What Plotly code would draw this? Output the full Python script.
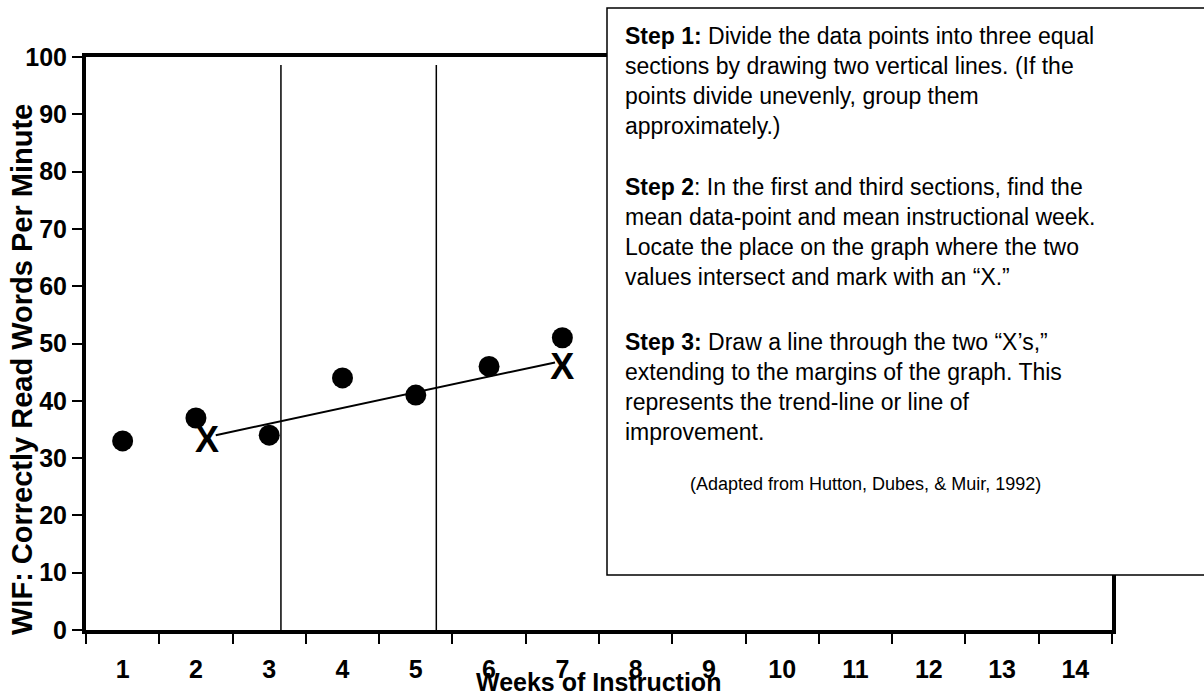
import plotly.graph_objects as go

# ---- data ----
weeks = [1, 2, 3, 4, 5, 6, 7]
wif_scores = [33, 37, 34, 44, 41, 46, 51]
week_ticks = list(range(1, 15))
week_labels = [str(w) for w in week_ticks]
score_ticks = list(range(0, 101, 10))
divider_x = [3.16, 5.28]
divider_top = 98.6
trend_x = [2.27, 6.9]
trend_y = [34.0, 46.7]
mark_x = [2.15, 7.0]
mark_y = [32.6, 45.4]

FONT = "Arial, Liberation Sans, sans-serif"

# plot area in pixels
L, R, T, B = 86, 1112, 57, 630
W, H = 1204, 695


def px(x):
    return (x - L) / (R - L)


def py(y):
    return (B - y) / (B - T)


fig = go.Figure()

for dx in divider_x:
    fig.add_trace(go.Scatter(x=[dx, dx], y=[0, divider_top], mode="lines",
                             line=dict(color="black", width=1.5),
                             hoverinfo="skip", showlegend=False))

fig.add_trace(go.Scatter(x=trend_x, y=trend_y, mode="lines",
                         line=dict(color="black", width=2),
                         showlegend=False))

fig.add_trace(go.Scatter(x=weeks, y=wif_scores, mode="markers",
                         marker=dict(color="black", size=21),
                         showlegend=False))

fig.add_trace(go.Scatter(x=mark_x, y=mark_y, mode="text", text=["X", "X"],
                         textposition="middle center",
                         textfont=dict(family=FONT, size=36, color="black", weight="bold"),
                         showlegend=False))

fig.update_layout(
    width=W, height=H,
    margin=dict(l=L, r=W - R, t=T, b=H - B),
    paper_bgcolor="white", plot_bgcolor="white",
    font=dict(family=FONT, color="black"),
    showlegend=False,
    xaxis=dict(
        range=[0.5, 14.5], tickmode="array", tickvals=week_ticks, ticktext=week_labels,
        ticks="", showgrid=False, zeroline=False, automargin=False,
        showline=True, linecolor="black", linewidth=4, mirror=True,
        tickfont=dict(family=FONT, size=25, color="black", weight="bold"),
        ticklabelstandoff=14,
        minor=dict(tickmode="array", tickvals=[w - 0.5 for w in week_ticks] + [14.5],
                   ticks="outside", ticklen=10, tickwidth=2, tickcolor="black", showgrid=False),
    ),
    yaxis=dict(
        range=[0, 100], tickmode="array", tickvals=score_ticks,
        ticks="outside", ticklen=10, tickwidth=2, tickcolor="black",
        showgrid=False, zeroline=False, automargin=False,
        showline=True, linecolor="black", linewidth=4, mirror=True,
        tickfont=dict(family=FONT, size=25, color="black", weight="bold"),
    ),
)

# instruction box
fig.add_shape(type="rect", xref="paper", yref="paper",
              x0=px(607), x1=px(1210), y0=py(575), y1=py(8),
              line=dict(color="black", width=1.5), fillcolor="white", layer="above")

step1 = ("<b>Step 1:</b> Divide the data points into three equal<br>"
         "sections by drawing two vertical lines. (If the<br>"
         "points divide unevenly, group them<br>"
         "approximately.)")
step2 = ("<b>Step 2</b>: In the first and third sections, find the<br>"
         "mean data-point and mean instructional week.<br>"
         "Locate the place on the graph where the two<br>"
         "values intersect and mark with an \u201cX.\u201d")
step3 = ("<b>Step 3:</b> Draw a line through the two \u201cX\u2019s,\u201d<br>"
         "extending to the margins of the graph. This<br>"
         "represents the trend-line or line of<br>"
         "improvement.")
citation = "(Adapted from Hutton, Dubes, & Muir, 1992)"

for txt, yc in [(step1, 80.5), (step2, 231.5), (step3, 387)]:
    fig.add_annotation(xref="paper", yref="paper", x=px(623), y=py(yc),
                       xanchor="left", yanchor="middle", align="left",
                       text=txt, showarrow=False,
                       font=dict(family=FONT, size=23, color="black"))

fig.add_annotation(xref="paper", yref="paper", x=px(865), y=py(484),
                   xanchor="center", yanchor="middle", text=citation, showarrow=False,
                   font=dict(family=FONT, size=18, color="black"))

# axis titles
fig.add_annotation(xref="paper", yref="paper", x=px(598), y=py(682),
                   xanchor="center", yanchor="middle", text="<b>Weeks of Instruction</b>",
                   showarrow=False, font=dict(family=FONT, size=25, color="black"))
fig.add_annotation(xref="paper", yref="paper", x=px(22), y=py(370),
                   xanchor="center", yanchor="middle", textangle=-90,
                   text="<b>WIF: Correctly Read Words Per Minute</b>",
                   showarrow=False, font=dict(family=FONT, size=29, color="black"))

fig.write_html("out.html", config={"displayModeBar": False},
               post_script="document.body.style.margin='0';document.body.style.overflow='hidden';")
